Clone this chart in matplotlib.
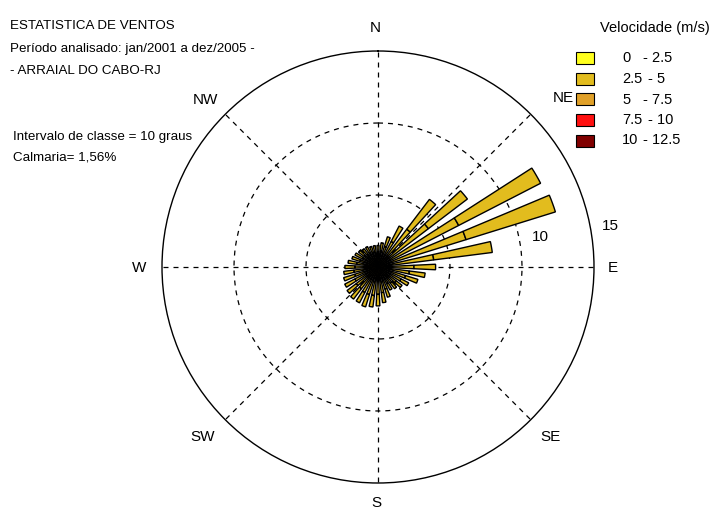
import numpy as np
import matplotlib.pyplot as plt
from matplotlib.patches import Rectangle

plt.rcParams['font.family'] = ['Liberation Sans', 'DejaVu Sans']

direcoes = np.arange(0, 360, 10)
freq_total = [1.5, 1.7, 2.2, 3.2, 5.9, 7.8, 12.7, 12.9, 8.0, 4.0, 3.3, 2.9,
              2.4, 2.1, 1.9, 1.8, 2.2, 2.5, 2.7, 2.8, 2.9, 2.8, 2.8, 2.7,
              2.6, 2.5, 2.4, 2.3, 2.1, 1.9, 1.8, 1.7, 1.6, 1.6, 1.5, 1.5]
freq_interna = [1.0, 1.1, 1.5, 2.0, 3.3, 4.4, 6.3, 6.4, 3.9, 2.5, 2.2, 2.0,
                1.8, 1.6, 1.4, 1.3, 1.6, 1.8, 1.9, 2.0, 2.0, 2.0, 1.9, 1.9,
                1.8, 1.7, 1.7, 1.6, 1.5, 1.3, 1.2, 1.2, 1.1, 1.1, 1.0, 1.0]

classes_low = ['0', '2.5', '5', '7.5', '10']
classes_high = ['2.5', '5', '7.5', '10', '12.5']
cores = ['#FFFF1E', '#E2BC1E', '#E0A028', '#FF1010', '#800000']

pontos = ['N', 'NE', 'E', 'SE', 'S', 'SW', 'W', 'NW']
aneis = [5, 10]

W, H = 718, 511
fig = plt.figure(figsize=(W / 100, H / 100), dpi=100)
fig.patch.set_facecolor('white')

cx, cy, R = 378, 267, 216
ax = fig.add_axes([(cx - R) / W, (H - cy - R) / H, 2 * R / W, 2 * R / H],
                  projection='polar')
ax.set_theta_zero_location('N')
ax.set_theta_direction(-1)
ax.set_ylim(0, 15)
ax.grid(False)
ax.set_xticks([])
ax.set_yticks([])
ax.spines['polar'].set_linewidth(1.0)
ax.spines['polar'].set_color('black')

# linhas tracejadas radiais e aneis
tt = np.linspace(0, 2 * np.pi, 400)
for r in aneis:
    ax.plot(tt, np.full_like(tt, r), color='black', lw=0.9, ls=(0, (4, 4)))
for k in range(8):
    a = np.deg2rad(45 * k)
    ax.plot([a, a], [0, 15], color='black', lw=0.9, ls=(0, (4, 4)))

theta = np.deg2rad(direcoes)
largura = np.deg2rad(5.5)
interna = np.array(freq_interna)
externa = np.array(freq_total) - interna
ax.bar(theta, interna, width=largura, bottom=0, color=cores[1],
       edgecolor='black', linewidth=1.0, zorder=3)
ax.bar(theta, externa, width=largura, bottom=interna, color=cores[1],
       edgecolor='black', linewidth=1.0, zorder=3)

# rotulos das direcoes
pos_pontos = [(375, 28), (563, 98), (613, 268), (550, 437), (376, 503),
              (203, 437), (139, 268), (205, 100)]
for p, (x, y) in zip(pontos, pos_pontos):
    fig.text(x / W, 1 - y / H, p, fontsize=11, ha='center', va='center')
fig.text(540 / W, 1 - 237 / H, '10', fontsize=11, ha='center', va='center')
fig.text(610 / W, 1 - 226 / H, '15', fontsize=11, ha='center', va='center')

# textos do canto
fs = 9.6
fig.text(10 / W, 1 - 26 / H, 'ESTATISTICA DE VENTOS', fontsize=fs, va='center')
fig.text(10 / W, 1 - 49 / H, 'Período analisado: jan/2001 a dez/2005 -',
         fontsize=fs, va='center')
fig.text(10 / W, 1 - 71 / H, '- ARRAIAL DO CABO-RJ', fontsize=fs, va='center')
fig.text(13 / W, 1 - 137 / H, 'Intervalo de classe = 10 graus',
         fontsize=fs, va='center')
fig.text(13 / W, 1 - 158 / H, 'Calmaria= 1,56%', fontsize=fs, va='center')

# legenda
fig.text(655 / W, 1 - 28 / H, 'Velocidade (m/s)', fontsize=10.5,
         ha='center', va='center')
for i, (lo, hi, c) in enumerate(zip(classes_low, classes_high, cores)):
    y = 58.5 + 20.5 * i
    fig.patches.append(Rectangle((576 / W, 1 - (y + 6) / H), 18 / W, 12 / H,
                                 transform=fig.transFigure, facecolor=c,
                                 edgecolor='black', linewidth=0.8))
    fig.text(622 / W, 1 - y / H, lo, fontsize=10.5, va='center')
    xh = 648 if len(lo) == 3 else 643
    fig.text(xh / W, 1 - y / H, '- ' + hi, fontsize=10.5, va='center')

fig.savefig('out.png', dpi=100, facecolor='white')
